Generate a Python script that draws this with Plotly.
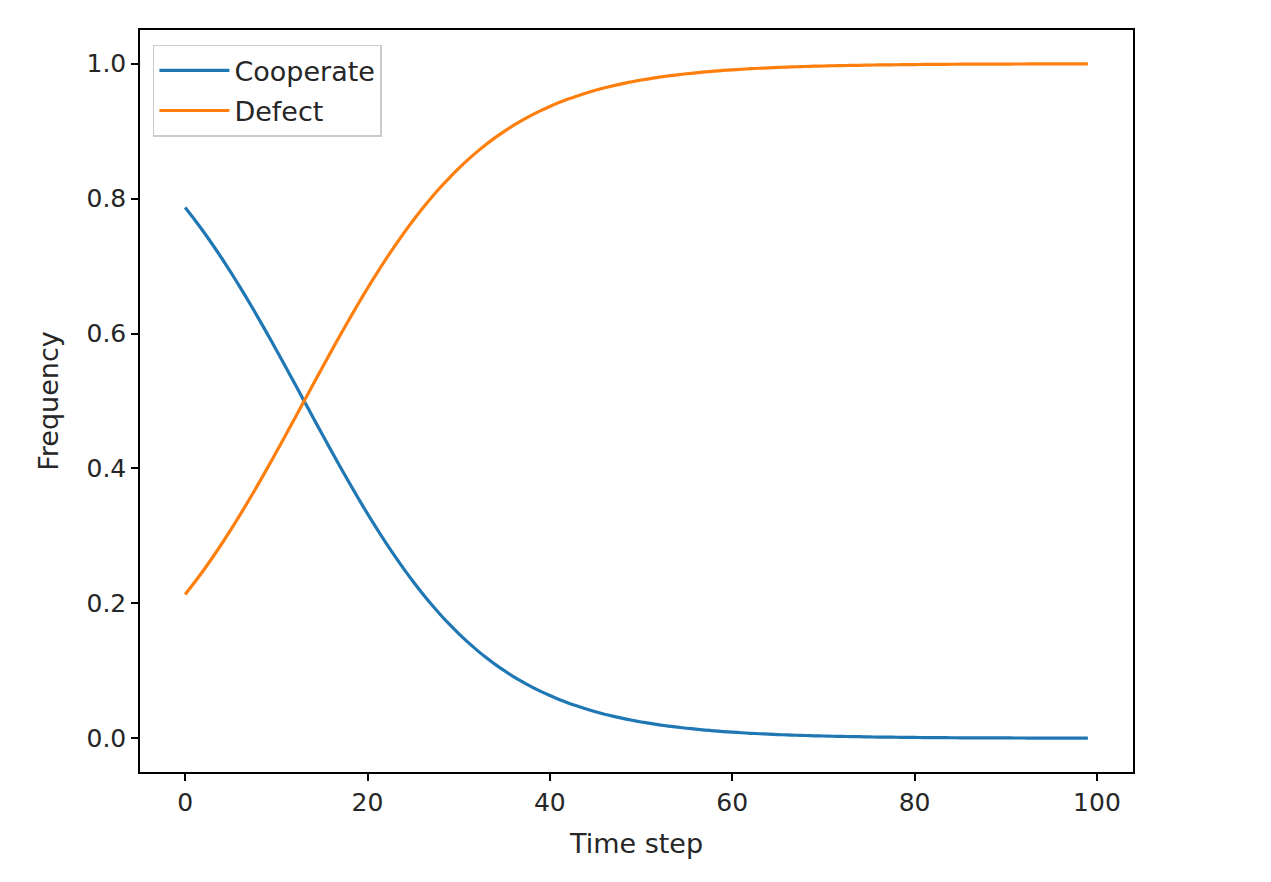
import plotly.graph_objects as go

time_step = list(range(100))

cooperate = [
    0.7867, 0.7694, 0.7512, 0.7320, 0.7120, 0.6910, 0.6693, 0.6468, 0.6236, 0.5999,
    0.5757, 0.5511, 0.5262, 0.5012, 0.4763, 0.4514, 0.4268, 0.4025, 0.3787, 0.3555,
    0.3329, 0.3111, 0.2901, 0.2699, 0.2507, 0.2324, 0.2150, 0.1986, 0.1832, 0.1687,
    0.1551, 0.1425, 0.1307, 0.1197, 0.1096, 0.1002, 0.0915, 0.0836, 0.0762, 0.0695,
    0.0633, 0.0576, 0.0524, 0.0477, 0.0433, 0.0394, 0.0357, 0.0325, 0.0295, 0.0267,
    0.0242, 0.0220, 0.0199, 0.0181, 0.0164, 0.0149, 0.0135, 0.0122, 0.0110, 0.0100,
    0.0091, 0.0082, 0.0074, 0.0067, 0.0061, 0.0055, 0.0050, 0.0045, 0.0041, 0.0037,
    0.0034, 0.0030, 0.0027, 0.0025, 0.0023, 0.0020, 0.0018, 0.0017, 0.0015, 0.0014,
    0.0012, 0.0011, 0.0010, 0.0009, 0.0008, 0.0007, 0.0007, 0.0006, 0.0006, 0.0005,
    0.0005, 0.0004, 0.0004, 0.0003, 0.0003, 0.0003, 0.0002, 0.0002, 0.0002, 0.0002,
]

defect = [
    0.2133, 0.2306, 0.2488, 0.2680, 0.2880, 0.3090, 0.3307, 0.3532, 0.3764, 0.4001,
    0.4243, 0.4489, 0.4738, 0.4988, 0.5237, 0.5486, 0.5732, 0.5975, 0.6213, 0.6445,
    0.6671, 0.6889, 0.7099, 0.7301, 0.7493, 0.7676, 0.7850, 0.8014, 0.8168, 0.8313,
    0.8449, 0.8575, 0.8693, 0.8803, 0.8904, 0.8998, 0.9085, 0.9164, 0.9238, 0.9305,
    0.9367, 0.9424, 0.9476, 0.9523, 0.9567, 0.9606, 0.9643, 0.9675, 0.9705, 0.9733,
    0.9758, 0.9780, 0.9801, 0.9819, 0.9836, 0.9851, 0.9865, 0.9878, 0.9890, 0.9900,
    0.9909, 0.9918, 0.9926, 0.9933, 0.9939, 0.9945, 0.9950, 0.9955, 0.9959, 0.9963,
    0.9966, 0.9970, 0.9973, 0.9975, 0.9977, 0.9980, 0.9982, 0.9983, 0.9985, 0.9986,
    0.9988, 0.9989, 0.9990, 0.9991, 0.9992, 0.9993, 0.9993, 0.9994, 0.9994, 0.9995,
    0.9995, 0.9996, 0.9996, 0.9997, 0.9997, 0.9997, 0.9998, 0.9998, 0.9998, 0.9998,
]

x_ticks = [0, 20, 40, 60, 80, 100]
y_ticks = [0.0, 0.2, 0.4, 0.6, 0.8, 1.0]
y_tick_labels = ["0.0", "0.2", "0.4", "0.6", "0.8", "1.0"]

# page body has an 8px margin, so the figure is a bit smaller and offset
W, H = 1263, 874
ML, MR, MT, MB = 132, 138, 22, 110
FONT = "DejaVu Sans"
TXT = "#262626"
TICK_SIZE = 25
LABEL_SIZE = 27

fig = go.Figure()
fig.add_trace(go.Scatter(x=time_step, y=cooperate, mode="lines", name="Cooperate",
                         legendgroup="c",
                         line=dict(color="#1f77b4", width=3.2, shape="spline", smoothing=0.6)))
fig.add_trace(go.Scatter(x=time_step, y=defect, mode="lines", name="Defect",
                         legendgroup="d",
                         line=dict(color="#ff7f0e", width=3.2, shape="spline", smoothing=0.6)))

axis_common = dict(showline=True, linecolor="black", linewidth=1.5, mirror=True,
                   showgrid=False, zeroline=False, ticks="outside", ticklen=7,
                   tickwidth=1.5, tickcolor="black",
                   tickfont=dict(family=FONT, size=TICK_SIZE, color=TXT))

fig.update_xaxes(range=[-4.95, 103.95], tickvals=x_ticks,
                 title=dict(text="Time step", font=dict(family=FONT, size=LABEL_SIZE, color=TXT), standoff=18),
                 **axis_common)
fig.update_yaxes(range=[-0.05, 1.05], tickvals=y_ticks, ticktext=y_tick_labels,
                 title=dict(text="Frequency", font=dict(family=FONT, size=LABEL_SIZE, color=TXT), standoff=20),
                 **axis_common)

fig.update_layout(
    width=W, height=H,
    margin=dict(l=ML, r=MR, t=MT, b=MB),
    paper_bgcolor="white", plot_bgcolor="white",
    font=dict(family=FONT, size=TICK_SIZE, color=TXT),
    showlegend=True,
    legend=dict(x=0.013, y=0.98, xanchor="left", yanchor="top",
                bgcolor="rgba(255,255,255,0.8)", bordercolor="#cccccc", borderwidth=1.5,
                font=dict(family=FONT, size=LABEL_SIZE, color=TXT), itemwidth=70,
                traceorder="grouped", tracegroupgap=2),
)

fig.write_html("out.html")
